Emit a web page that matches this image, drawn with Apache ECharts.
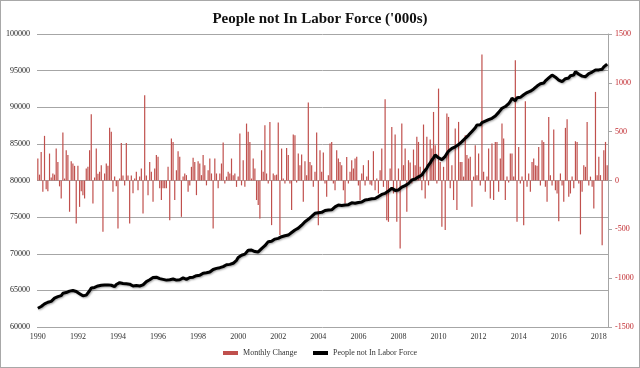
<!DOCTYPE html>
<html><head><meta charset="utf-8">
<script src="https://cdn.jsdelivr.net/npm/echarts@6/dist/echarts.min.js"></script>
<style>html,body{margin:0;padding:0;background:#fff}#c{width:638px;height:366px;border:1px solid #a8a8a8}</style>
</head><body><div id="c"></div><script>
// Time range: monthly, Jan 1990 .. Jun 2018
const startYear = 1990;
const monthCount = 342;
const yearLabels = ['1990','1992','1994','1996','1998','2000','2002','2004','2006','2008','2010','2012','2014','2016','2018'];

// Monthly change ('000s), right axis
const monthlyChange = [
  225, 60, 293, -116, 457, -90, -109, 276, 30, 72, 60, 327,
  190, -60, -184, 491, 20, 310, 260, -320, 198, 174, 150, -440,
  150, -270, -110, -150, -184, 123, 140, 310, 679, -235, 30, 327,
  70, 90, 157, -525, 72, 174, 150, 539, 498, -116, 40, -60,
  -491, 20, 385, 50, -50, 385, 50, -440, 50, -130, 20, 89,
  -100, 40, 123, -338, 873, 50, -150, 190,
  89, -218, 123, 260, 242, -80, -200, -80, -80, -80, 140, -406, 430, 395, -200, 105, 300, 242, -372, 40,
  72, 55, -116, -50, 140, 232, 190, -150, 198, 174, 55, 260, 157, -50, 105, 225, 72, -491, 225, 72,
  -80, 72, 174, 389, -30, 40, 89, 72, 225, 55, 72, -65, 40, 481, -50, 208, -65, 583, 498, 395,
  20, 225, 123, -200, -250, -389, 310, 89,
  566, 72, -30, 600, -457, 72, 55, 60, 593, -559, 327, 20, -30, 334, 260, -30, -303, 470, 464, -20,
  276, 157, 266, -218, 198, 55, 798, 190, 157, -65, 89, 491, -457, 310, 89, 286, -30, -167, 55, 378,
  395, -30, -100, 310, 225, 190, 157, -100, -235, 240, -30, 89, 208, 123, 225, 242, -50, -200, 72, 157,
  -50, 40, 208, -40, -50, 300, -100,
  20, -133, 105, 327, -65, 832, -406, -423, 123, 549, -133, 470, -423, 123, -696, 583, 157, 327, -320, 208,
  184, -30, 317, 157, 447, 395, 140, -100, 573, -184, 447, -50, 420, 327, 702, 361, -30, 941, 190, -474,
  140, -508, 685, 651, -80, 157, -200, 532, -303, 600, 190, 190, 40, 464, 260, 225, 242, -269, 40, 361,
  55, 276, -50, 1289, 89, -116, 40,
  327, -184, 378, -200, 395, 395, -116, 225, 583, 430, -200, 40, -20, 276, 276, 40, 1231, -423, 344, -30,
  40, -457, 812, -65, 72, -116, 190, 225, 157, 150, 344, -50, 413, 395, -65, -218, 651, 55, -50, 522,
  -100, -133, -416, 72, -50, -218, 539, 627, -167, -133, 40, -80, 402, 395, -30, -552, -116, 157, 140, 600,
  -50, 40, -65, -286, 907, 55, 242, 55, -662, 310, 395, 157
];

// People not in labor force ('000s), left axis
const notInLaborForce = [
  62560, 62720, 62800, 63010, 63150, 63120, 63380, 63560, 63500, 63760, 63950, 63900,
  64150, 64320, 64280, 64600, 64820, 64700, 64750, 64900, 65050, 64980, 65050, 64850,
  64700, 64550, 64400, 64250, 64140, 64350, 64600, 64950, 65330, 65200, 65400, 65550,
  65600, 65450, 65700, 65650, 65740, 65900, 65750, 65600, 65700, 65550, 65510, 65800,
  65900, 66050, 65850, 65950, 66060, 65900, 65750, 65850, 65700, 65600, 65750, 65650,
  65550, 65600, 65510, 65750, 65950, 66200, 66150, 66450, 66600, 66750, 66970, 66800,
  66850, 66600, 66700, 66500, 66550, 66400, 66330, 66450, 66400, 66550, 66500, 66400,
  66600, 66450, 66550, 66700, 66600, 66500, 66650, 66750, 66650, 66800, 66900, 67000,
  67100, 67050, 67200, 67350, 67250, 67400, 67560, 67500, 67700, 67850, 67800, 68000,
  68150, 68100, 68330, 68250, 68450, 68500, 68600, 68550, 68750, 68700, 68920, 69100,
  69500, 69700, 69800, 70000, 69950, 70200, 70480, 70350, 70500, 70400, 70300, 70350,
  70250, 70500, 70700, 70900, 71100, 71300, 71650, 71500, 71700, 71850, 72000, 71950,
  72100, 72200, 72330, 72250, 72450, 72600, 72550, 72750, 72900, 73050, 73250, 73200,
  73500, 73700, 73900, 74100, 74380, 74550, 74700, 74900, 75100, 75300, 75520, 75450,
  75600, 75750, 75650, 75800, 75900, 75850, 75980, 76100, 76000, 76250, 76400, 76350,
  76660, 76500, 76600, 76750, 76650, 76800, 76700, 76850, 76950, 76800, 76890, 77050,
  77000, 77150, 77050, 77200, 77350, 77250, 77400, 77300, 77500, 77600, 77550, 77700,
  77800, 77950, 78100, 78000, 78250, 78400, 78550, 78700, 78940, 78800, 78650, 78750,
  78710, 78900, 79100, 79000, 79300, 79450, 79600, 79800, 80070, 79950, 80200, 80400,
  80500, 80700, 80750, 81100, 81400, 81700, 82100, 82400, 82800, 83100, 83480, 83300,
  83100, 82950, 82850, 82800, 83300, 83700, 84000, 84200, 84390, 84300, 84600, 84800,
  84900, 85100, 85300, 85500, 85760, 85900, 86200, 86400, 86700, 86900, 87200, 87580,
  87700, 87600, 87900, 88000, 88100, 88050, 88300, 88400, 88490, 88600, 88800, 89000,
  89300, 89500, 89860, 90000, 90100, 90300, 90500, 90800, 91220, 91000, 90900, 91300,
  91400, 91350, 91450, 91700, 91900, 92000, 92150, 92200, 92360, 92500, 92700, 92900,
  93000, 93200, 93400, 93300, 93600, 93800, 94000, 94200, 94400, 94300, 94100, 93900,
  93700, 93600, 93490, 93700, 93900, 94100, 94000, 94300, 94500, 94400, 94850, 94700,
  94500, 94350, 94250, 94300, 94170, 94400, 94600, 94500, 94800, 94700, 95080, 94900,
  95100, 95300, 95200, 95500, 95700, 95900
];

const categories = [];
for (let i = 0; i < monthCount; i++) {
  const y = startYear + Math.floor(i / 12);
  const m = (i % 12) + 1;
  categories.push(y + '-' + (m < 10 ? '0' + m : m));
}

const serif = 'Liberation Serif';
const plain = function (v) { return String(v); };
const chart = echarts.init(document.getElementById('c'));
chart.setOption({
  animation: false,
  backgroundColor: '#fff',
  title: {
    text: "People not In Labor Force ('000s)",
    left: 'center', top: 6,
    textStyle: { fontFamily: serif, fontWeight: 'bold', fontSize: 15, color: '#111' }
  },
  legend: {
    bottom: 5, left: 'center',
    itemWidth: 15, itemHeight: 4, itemGap: 16,
    textStyle: { fontFamily: serif, fontSize: 8, color: '#333' },
    data: [
      { name: 'Monthly Change', icon: 'rect', itemStyle: { color: '#c0504d' } },
      { name: 'People not In Labor Force', icon: 'rect', itemStyle: { color: '#000' } }
    ]
  },
  grid: { left: 36, right: 31, top: 33, bottom: 40 },
  xAxis: {
    type: 'category',
    data: categories,
    boundaryGap: true,
    axisLine: { show: false },
    axisTick: { show: false },
    axisLabel: {
      interval: function (idx) { return idx % 24 === 0; },
      formatter: function (v) { const y = v.slice(0, 4); return yearLabels.indexOf(y) >= 0 ? y : ''; },
      fontFamily: serif, fontSize: 8, color: '#333', margin: 6
    }
  },
  yAxis: [
    {
      type: 'value', min: 60000, max: 100000, interval: 5000,
      axisLine: { show: false }, axisTick: { show: false },
      axisLabel: { formatter: plain, fontFamily: serif, fontSize: 8, color: '#222', margin: 7 },
      splitLine: { lineStyle: { color: '#a6a6a6', width: 1 } }
    },
    {
      type: 'value', min: -1500, max: 1500, interval: 500, position: 'right',
      axisLine: { show: true, lineStyle: { color: '#a6a6a6' } },
      axisTick: { show: true, length: 4, lineStyle: { color: '#a6a6a6' } },
      axisLabel: { formatter: plain, fontFamily: serif, fontSize: 8, color: '#c0282d', margin: 7 },
      splitLine: { show: false }
    }
  ],
  series: [
    {
      name: 'Monthly Change', type: 'bar', yAxisIndex: 1,
      data: monthlyChange, barWidth: 1.2,
      itemStyle: { color: '#c0504d' }, z: 2
    },
    {
      name: 'People not In Labor Force', type: 'line', yAxisIndex: 0,
      data: notInLaborForce, showSymbol: false, symbol: 'none',
      lineStyle: { color: '#000', width: 3, shadowColor: 'rgba(0,0,0,0.35)', shadowBlur: 2, shadowOffsetX: 1, shadowOffsetY: 1 },
      itemStyle: { color: '#000' }, z: 3
    }
  ]
});
</script></body></html>
